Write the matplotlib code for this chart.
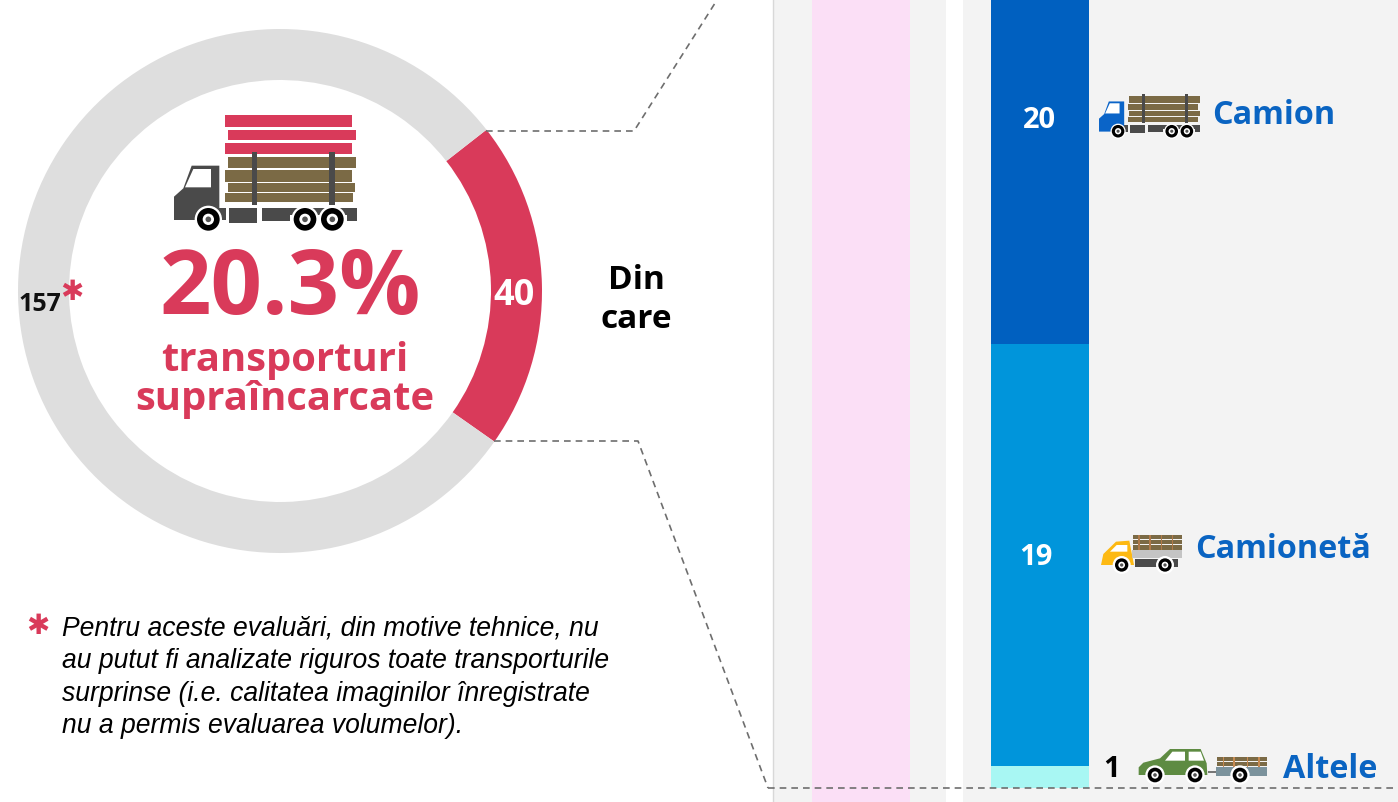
import matplotlib
matplotlib.use('Agg')
import matplotlib.pyplot as plt
from matplotlib.patches import Circle, Polygon, Rectangle

W, H = 1398, 803

donut_values = [40, 157]
donut_colors = ['#d93a5a', '#dedede']
share_label = '20.3%'

vehicle_names = ['Altele', 'Camionetă', 'Camion']
vehicle_counts = [1, 19, 20]
vehicle_colors = ['#a8f7f3', '#0095db', '#0060c0']

RED = '#d93a5a'
BLUE = '#0a64c2'
LOG = '#7b6a45'
DARK = '#4a4a4a'

fig = plt.figure(figsize=(W / 100, H / 100), dpi=100)


def px_axes(x0, y0, x1, y1, z):
    a = fig.add_axes([x0 / W, 1 - y1 / H, (x1 - x0) / W, (y1 - y0) / H], zorder=z)
    a.axis('off')
    return a


# background panels
bg = px_axes(0, 0, W, H, 0)
bg.set_xlim(0, W)
bg.set_ylim(H, 0)
bg.add_patch(Rectangle((773, 0), 173, H, color='#f3f3f3', lw=0))
bg.add_patch(Rectangle((812, 0), 98, H, color='#fbdff6', lw=0))
bg.add_patch(Rectangle((963, 0), W - 963, H, color='#f3f3f3', lw=0))
bg.plot([773, 773], [0, H], color='#d8d8d8', lw=1)

# donut
pie_ax = px_axes(18, 30, 542, 554, 1)
start = -35.1
pie_ax.pie(donut_values, colors=donut_colors, startangle=start, counterclock=True,
           radius=1, wedgeprops={'width': 51 / 262, 'linewidth': 0})
pie_ax.set_xlim(-1, 1)
pie_ax.set_ylim(-1, 1)

# stacked bar, 22.2 px per vehicle, top runs off the picture
bar_ax = px_axes(991, 0, 1089, 789, 1)
bottom = 0
for count, color in zip(vehicle_counts, vehicle_colors):
    bar_ax.bar(0, count, bottom=bottom, width=1, color=color, lw=0)
    bottom += count
bar_ax.set_xlim(-0.5, 0.5)
bar_ax.set_ylim(0, 789 / 22.2)

# everything else on a pixel overlay
ax = px_axes(0, 0, W, H, 2)
ax.set_xlim(0, W)
ax.set_ylim(H - 1, -1)
ax.patch.set_alpha(0)

dash = {'color': '#6e6e6e', 'lw': 1.2, 'ls': (0, (4, 3))}
ax.plot([486, 634, 717], [131, 131, 0], **dash)
ax.plot([494, 638, 768], [441, 441, 788], **dash)
ax.plot([768, W], [788, 788], **dash)


def box(f, x0, y0, x1, y1, color, z=3):
    p0 = f(x0, y0)
    p1 = f(x1, y1)
    ax.add_patch(Rectangle(p0, p1[0] - p0[0], p1[1] - p0[1], color=color, lw=0, zorder=z))


def poly(f, pts, color, z=3):
    ax.add_patch(Polygon([f(*p) for p in pts], closed=True, color=color, lw=0, zorder=z))


def wheel(f, s, x, y, r):
    cx, cy = f(x, y)
    ax.add_patch(Circle((cx, cy), (r + 7) * s, color='white', lw=0, zorder=4))
    ax.add_patch(Circle((cx, cy), r * s, color='black', lw=0, zorder=5))
    ax.add_patch(Circle((cx, cy), r * 0.5 * s, color='white', lw=0, zorder=6))
    ax.add_patch(Circle((cx, cy), r * 0.25 * s, color='#555555', lw=0, zorder=7))


def truck(ox, oy, s, cab, planks=False):
    f = lambda x, y: (ox + x * s, oy + y * s)
    poly(f, [(72, 290), (100, 265), (125, 197), (208, 197), (208, 360), (72, 360)], cab)
    poly(f, [(105, 262), (130, 207), (183, 207), (183, 262)], 'white')
    box(f, 238, 325, 320, 368, DARK)
    box(f, 337, 325, 420, 362, DARK)
    box(f, 420, 325, 590, 345, DARK)
    box(f, 590, 325, 620, 362, DARK)
    box(f, 208, 325, 228, 360, DARK)
    for x0, y0, x1, y1 in [(235, 170, 618, 205), (226, 210, 605, 245),
                           (235, 250, 616, 277), (226, 280, 608, 307)]:
        box(f, x0, y0, x1, y1, LOG)
    if planks:
        for x0, y0, x1, y1 in [(226, 45, 605, 80), (235, 90, 617, 120), (226, 128, 605, 162)]:
            box(f, x0, y0, x1, y1, RED)
    box(f, 307, 155, 320, 315, DARK, 4)
    box(f, 538, 155, 555, 315, DARK, 4)
    for x in (175, 465, 547):
        wheel(f, s, x, 358, 34)


def pickup(ox, oy, s):
    f = lambda x, y: (ox + x * s, oy + y * s)
    poly(f, [(33, 135), (40, 102), (78, 65), (118, 62), (132, 135)], '#fdb913')
    poly(f, [(60, 95), (80, 75), (112, 75), (112, 95)], 'white')
    box(f, 125, 90, 275, 113, '#c4c4c4')
    box(f, 135, 117, 265, 140, DARK)
    for y0, y1 in [(46, 58), (61, 73), (76, 90)]:
        box(f, 128, y0, 275, y1, LOG)
    for x in (145, 178, 212, 245):
        box(f, x, 46, x + 4, 90, '#b07a4a', 4)
    for x in (95, 225):
        wheel(f, s, x, 135, 20)


def car_trailer(ox, oy, s):
    f = lambda x, y: (ox + x * s, oy + y * s)
    poly(f, [(476, 135), (476, 112), (490, 98), (540, 85), (570, 57), (662, 57), (680, 100), (682, 135)],
         '#5e8b42')
    poly(f, [(555, 92), (577, 65), (615, 65), (615, 92)], 'white')
    poly(f, [(626, 65), (662, 65), (672, 92), (626, 92)], 'white')
    box(f, 685, 123, 707, 130, '#777777')
    box(f, 707, 110, 860, 137, '#7b929c')
    box(f, 712, 82, 860, 92, LOG)
    box(f, 712, 97, 860, 107, LOG)
    for x in (728, 760, 800, 835):
        box(f, x, 82, x + 5, 110, '#c68a52', 4)
    for x in (525, 645, 780):
        wheel(f, s, x, 135, 22)


truck(150, 100, 1 / 3, DARK, planks=True)
truck(1085.7, 65, 0.185, '#0a64c8')
pickup(1090, 520, 1 / 3)
car_trailer(980, 730, 1 / 3)

font = 'Open Sans'
ax.text(290, 290, share_label, family=font, weight='bold', fontsize=65, color=RED,
        ha='center', va='center', zorder=8)
ax.text(285, 360, 'transporturi', family=font, weight='bold', fontsize=28.8, color=RED,
        ha='center', va='center', zorder=8)
ax.text(285, 399, 'supraîncarcate', family=font, weight='bold', fontsize=28.8, color=RED,
        ha='center', va='center', zorder=8)
ax.text(514, 295, str(donut_values[0]), family=font, weight='bold', fontsize=26, color='white',
        ha='center', va='center', zorder=8)
ax.text(40, 304, str(donut_values[1]), family=font, weight='bold', fontsize=18, color='#111111',
        ha='center', va='center', zorder=8)
ax.text(636, 280, 'Din', family=font, weight='bold', fontsize=24, color='black',
        ha='center', va='center', zorder=8)
ax.text(636, 319, 'care', family=font, weight='bold', fontsize=24, color='black',
        ha='center', va='center', zorder=8)
ax.text(72, 291, '✱', family='DejaVu Sans', fontsize=20, color=RED,
        ha='center', va='center', zorder=8)
ax.text(38, 625, '✱', family='DejaVu Sans', fontsize=20, color=RED,
        ha='center', va='center', zorder=8)

note = ['Pentru aceste evaluări, din motive tehnice, nu',
        'au putut fi analizate riguros toate transporturile',
        'surprinse (i.e. calitatea imaginilor înregistrate',
        'nu a permis evaluarea volumelor).']
for i, line in enumerate(note):
    ax.text(62, 628 + i * 32.3, line, family='Liberation Sans', style='italic', fontsize=19.1,
            color='black', ha='left', va='center', zorder=8)

ax.text(1040, 120, str(vehicle_counts[2]), family=font, weight='bold', fontsize=21, color='white',
        ha='center', va='center', zorder=8)
ax.text(1036, 557, str(vehicle_counts[1]), family=font, weight='bold', fontsize=21, color='white',
        ha='center', va='center', zorder=8)
ax.text(1112, 769, str(vehicle_counts[0]), family=font, weight='bold', fontsize=21, color='black',
        ha='center', va='center', zorder=8)
ax.text(1212, 115, vehicle_names[2], family=font, weight='bold', fontsize=23.3, color=BLUE,
        ha='left', va='center', zorder=8)
ax.text(1195, 549, vehicle_names[1], family=font, weight='bold', fontsize=23.3, color=BLUE,
        ha='left', va='center', zorder=8)
ax.text(1283, 769, vehicle_names[0], family=font, weight='bold', fontsize=23.3, color=BLUE,
        ha='left', va='center', zorder=8)

fig.savefig('out.png', dpi=100)
